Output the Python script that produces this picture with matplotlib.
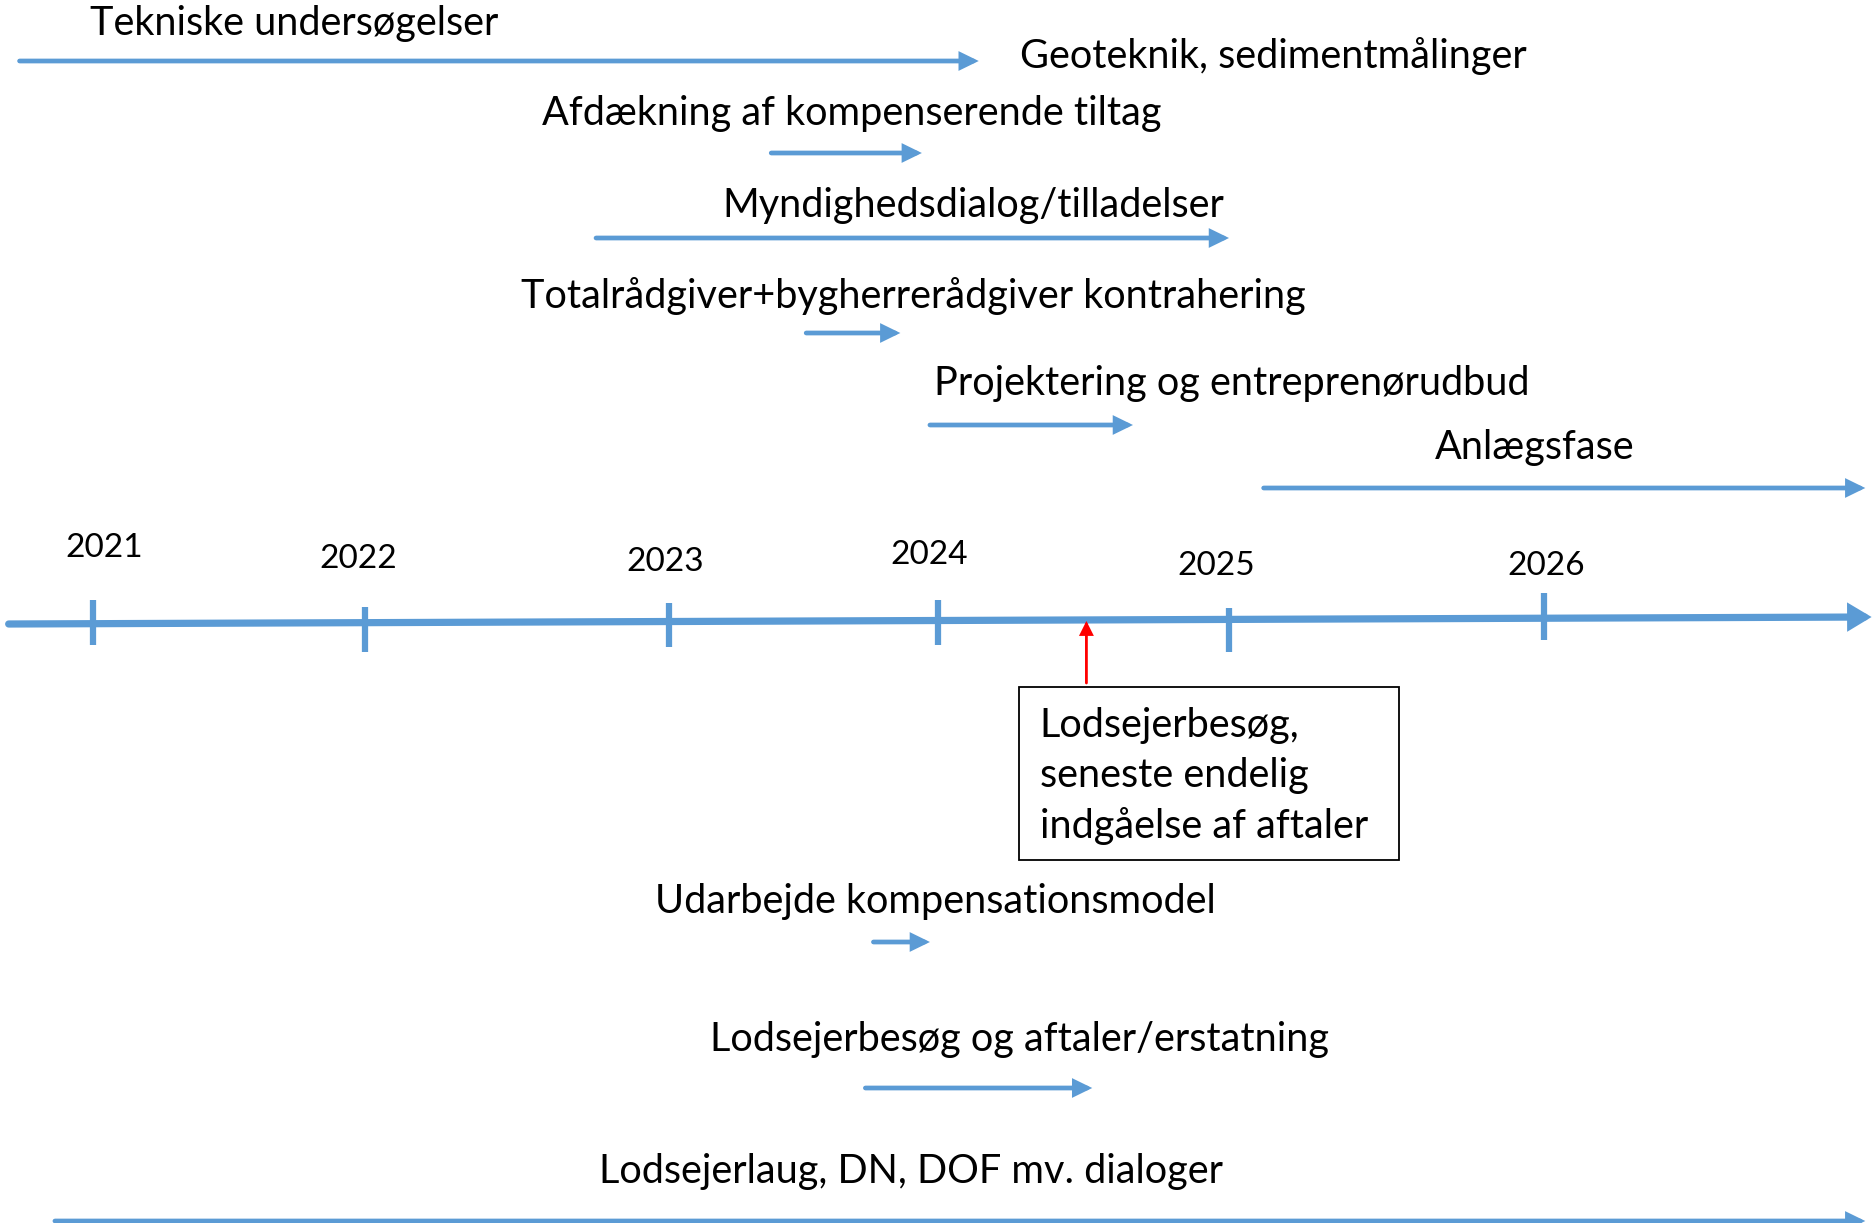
import numpy as np
import matplotlib.pyplot as plt
from matplotlib.patches import Rectangle

plt.rcParams['font.family'] = ['Lato', 'DejaVu Sans']

BLUE = '#5B9BD5'

# year ticks on the main time axis
years = [2021, 2022, 2023, 2024, 2025, 2026]
year_labels = ['2021', '2022', '2023', '2024', '2025', '2026']

# activities: label, start (year), end (year), label centre (year)
tasks = [
    'Tekniske undersøgelser',
    'Afdækning af kompenserende tiltag',
    'Myndighedsdialog/tilladelser',
    'Totalrådgiver+bygherrerådgiver kontrahering',
    'Projektering og entreprenørudbud',
    'Anlægsfase',
    'Udarbejde kompensationsmodel',
    'Lodsejerbesøg og aftaler/erstatning',
    'Lodsejerlaug, DN, DOF mv. dialoger',
]
task_start = [2020.73, 2023.38, 2022.76, 2023.51, 2023.97, 2025.11, 2023.76, 2023.73, 2020.86]
task_end = [2024.14, 2023.94, 2025.00, 2023.86, 2024.67, 2027.02, 2023.97, 2024.53, 2027.02]
label_mid = [2021.74, 2023.68, 2024.12, 2023.91, 2025.01, 2025.97, 2023.99, 2024.28, 2023.90]

extra_label = 'Geoteknik, sedimentmålinger'
extra_mid = 2025.14

milestone = 2024.51
milestone_text = 'Lodsejerbesøg,\nseneste endelig\nindgåelse af aftaler'
box_from, box_to = 2024.28, 2025.54

axis_from, axis_to = 2020.69, 2027.04

# ---- layout (pixel rows of the hand drawn slide) ----
W, H = 1872, 1223
tick_px = [93, 365, 669, 938, 1229, 1544]
arrow_y = [61, 153, 238, 333, 425, 488, 942, 1088, 1221]
text_y = [24, 113, 205, 296, 384, 448, 901, 1039, 1172]
extra_y = 56
year_y = [548, 559, 562, 555, 566, 566]
year_dx = [0.04, -0.024, -0.013, -0.033, -0.045, 0.008]
tick_top = [600, 607, 603, 600, 608, 593]
tick_bot = [645, 652, 647, 645, 652, 640]
axis_y0, axis_y1 = 624, 617

# piecewise linear year -> pixel scale (the ticks are not evenly spaced)
ext_years = np.array([2015] + years + [2032], dtype=float)
ext_px = np.array([tick_px[0] - 6 * 272] + tick_px + [tick_px[-1] + 6 * 315], dtype=float)


def forward(v):
    return np.interp(v, ext_years, ext_px)


def inverse(p):
    return np.interp(p, ext_px, ext_years)


fig = plt.figure(figsize=(W / 100, H / 100), dpi=100)
ax = fig.add_axes([0, 0, 1, 1])
ax.set_xscale('function', functions=(forward, inverse))
ax.set_xlim(inverse(0), inverse(W))
ax.set_ylim(H, 0)
ax.axis('off')

FS = 28.5


def arrow(x0, x1, y0, y1, lw, color, hl, hw, ms=20):
    ax.annotate('', xy=(x1, y1), xytext=(x0, y0),
                arrowprops=dict(arrowstyle=f'-|>,head_length={hl},head_width={hw}',
                                lw=lw, color=color, shrinkA=0, shrinkB=0,
                                mutation_scale=ms, joinstyle='miter'))


# activity arrows and labels
for lab, s, e, m, ay, ty in zip(tasks, task_start, task_end, label_mid, arrow_y, text_y):
    arrow(s, e, ay, ay, 3.4, BLUE, 0.45, 0.22)
    ax.text(m, ty, lab, ha='center', va='center', fontsize=FS, color='black')

ax.text(extra_mid, extra_y, extra_label, ha='center', va='center', fontsize=FS, color='black')

# main time axis
arrow(axis_from, axis_to, axis_y0, axis_y1, 5.2, BLUE, 0.5, 0.3)
for yr, lab, t0, t1, ly, dx in zip(years, year_labels, tick_top, tick_bot, year_y, year_dx):
    ax.plot([yr, yr], [t0, t1], color=BLUE, lw=4.5, solid_capstyle='butt')
    ax.text(yr + dx, ly, lab, ha='center', va='center', fontsize=24, color='black')

# milestone marker + box
arrow(milestone, milestone, 683, 621, 2.0, 'red', 0.5, 0.25, ms=15)
ax.add_patch(Rectangle((box_from, 687), box_to - box_from, 173,
                       fill=False, edgecolor='black', lw=1.3))
ax.text(2024.35, 776, milestone_text, ha='left', va='center', fontsize=FS,
        color='black', linespacing=1.42)

fig.savefig('out.png', dpi=100)
